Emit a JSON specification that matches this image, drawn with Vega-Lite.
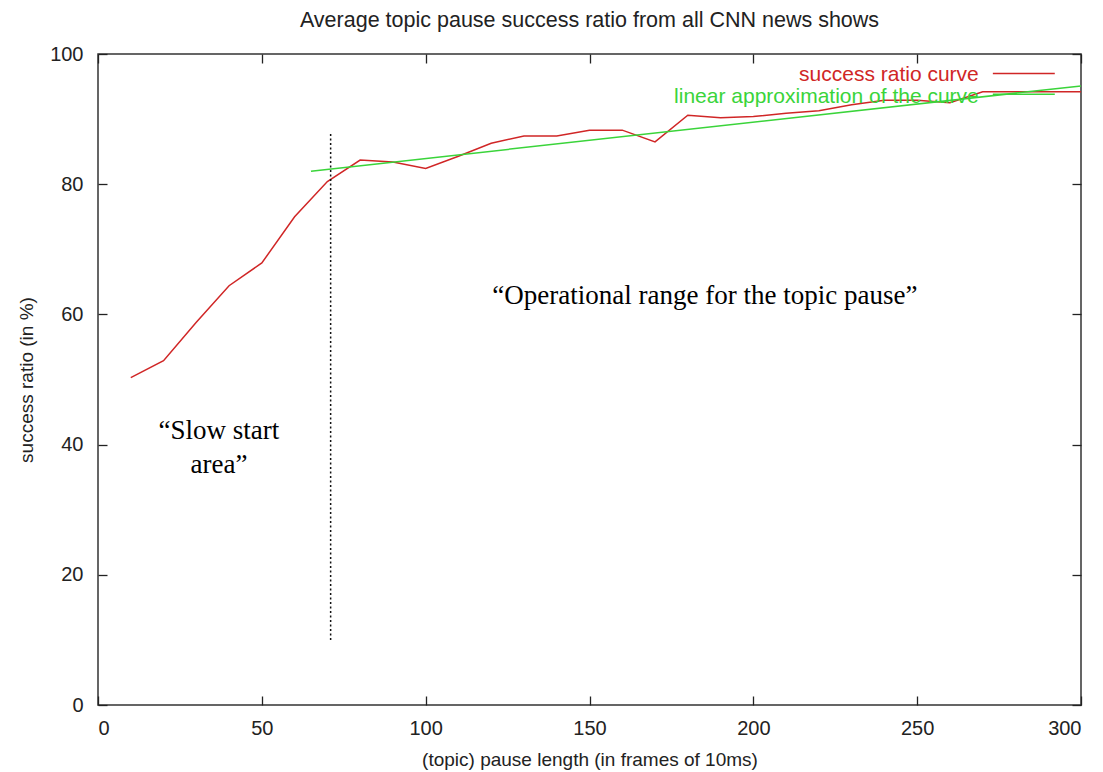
{
  "$schema": "https://vega.github.io/schema/vega-lite/v6.json",
  "width": 983,
  "height": 651,
  "autosize": {"type": "none"},
  "padding": {"left": 98, "top": 54, "right": 22, "bottom": 67},
  "background": "white",
  "title": {
    "text": "Average topic pause success ratio from all CNN news shows",
    "font": "Liberation Sans",
    "fontSize": 21.5,
    "fontWeight": "normal",
    "color": "#222222",
    "offset": 13
  },
  "config": {
    "view": {"stroke": "#333333", "strokeWidth": 1.5},
    "axis": {
      "grid": false,
      "domain": false,
      "tickColor": "#222222",
      "tickSize": -9,
      "tickWidth": 1.3,
      "labelFont": "Liberation Sans",
      "labelFontSize": 20,
      "labelColor": "#222222",
      "titleFont": "Liberation Sans",
      "titleFontSize": 19,
      "titleFontWeight": "normal",
      "titleColor": "#222222"
    }
  },
  "datasets": {
    "curves": [
      {"series": "success ratio curve", "length": 10, "ratio": 50.3},
      {"series": "success ratio curve", "length": 20, "ratio": 52.9},
      {"series": "success ratio curve", "length": 30, "ratio": 58.8},
      {"series": "success ratio curve", "length": 40, "ratio": 64.4},
      {"series": "success ratio curve", "length": 50, "ratio": 67.9},
      {"series": "success ratio curve", "length": 60, "ratio": 75.0},
      {"series": "success ratio curve", "length": 70, "ratio": 80.4},
      {"series": "success ratio curve", "length": 80, "ratio": 83.7},
      {"series": "success ratio curve", "length": 90, "ratio": 83.4},
      {"series": "success ratio curve", "length": 100, "ratio": 82.4},
      {"series": "success ratio curve", "length": 110, "ratio": 84.3},
      {"series": "success ratio curve", "length": 120, "ratio": 86.3},
      {"series": "success ratio curve", "length": 130, "ratio": 87.4},
      {"series": "success ratio curve", "length": 140, "ratio": 87.4},
      {"series": "success ratio curve", "length": 150, "ratio": 88.3},
      {"series": "success ratio curve", "length": 160, "ratio": 88.3},
      {"series": "success ratio curve", "length": 170, "ratio": 86.5},
      {"series": "success ratio curve", "length": 180, "ratio": 90.6},
      {"series": "success ratio curve", "length": 190, "ratio": 90.2},
      {"series": "success ratio curve", "length": 200, "ratio": 90.4},
      {"series": "success ratio curve", "length": 210, "ratio": 90.9},
      {"series": "success ratio curve", "length": 220, "ratio": 91.3},
      {"series": "success ratio curve", "length": 230, "ratio": 92.2},
      {"series": "success ratio curve", "length": 240, "ratio": 92.9},
      {"series": "success ratio curve", "length": 250, "ratio": 92.9},
      {"series": "success ratio curve", "length": 260, "ratio": 92.5},
      {"series": "success ratio curve", "length": 270, "ratio": 94.2},
      {"series": "success ratio curve", "length": 280, "ratio": 94.2},
      {"series": "success ratio curve", "length": 290, "ratio": 94.2},
      {"series": "success ratio curve", "length": 300, "ratio": 94.2},
      {"series": "linear approximation of the curve", "length": 65, "ratio": 82.0},
      {"series": "linear approximation of the curve", "length": 300, "ratio": 95.1}
    ],
    "boundary": [
      {"length": 71, "from": 10, "to": 88}
    ],
    "notes": [
      {"note": ["“Operational range for the topic pause”"], "length": 185.2, "ratio": 61.6},
      {"note": ["“Slow start", "area”"], "length": 36.9, "ratio": 40.8}
    ],
    "keyCurve": [{"series": "success ratio curve"}],
    "keyFit": [{"series": "linear approximation of the curve"}]
  },
  "layer": [
    {
      "data": {"name": "curves"},
      "mark": {"type": "line", "strokeWidth": 1.5},
      "encoding": {
        "x": {
          "field": "length", "type": "quantitative",
          "scale": {"domain": [0, 300]},
          "axis": {"orient": "bottom", "values": [0, 50, 100, 150, 200, 250, 300], "labelPadding": 22, "title": "(topic) pause length (in frames of 10ms)", "titlePadding": 12}
        },
        "y": {
          "field": "ratio", "type": "quantitative",
          "scale": {"domain": [0, 100]},
          "axis": {"orient": "left", "values": [0, 20, 40, 60, 80, 100], "labelPadding": 24, "title": "success ratio (in %)", "titlePadding": 13}
        },
        "color": {
          "field": "series", "type": "nominal",
          "scale": {
            "domain": ["success ratio curve", "linear approximation of the curve"],
            "range": ["#d02626", "#3ad43a"]
          },
          "legend": null
        }
      }
    },
    {
      "data": {"name": "curves"},
      "mark": {"type": "point", "opacity": 0},
      "encoding": {
        "x": {"field": "length", "type": "quantitative", "axis": {"orient": "top", "values": [0, 50, 100, 150, 200, 250, 300], "labels": false, "title": null}},
        "y": {"field": "ratio", "type": "quantitative", "axis": {"orient": "right", "values": [0, 20, 40, 60, 80, 100], "labels": false, "title": null}}
      }
    },
    {
      "data": {"name": "boundary"},
      "mark": {"type": "rule", "color": "#111111", "strokeWidth": 1.5, "strokeDash": [2, 2.5]},
      "encoding": {
        "x": {"field": "length", "type": "quantitative", "axis": null},
        "y": {"field": "from", "type": "quantitative", "axis": null},
        "y2": {"field": "to"}
      }
    },
    {
      "data": {"name": "notes"},
      "mark": {"type": "text", "font": "Liberation Serif", "fontSize": 27, "lineHeight": 34, "align": "center", "baseline": "alphabetic", "color": "#000000"},
      "encoding": {
        "x": {"field": "length", "type": "quantitative", "axis": null},
        "y": {"field": "ratio", "type": "quantitative", "axis": null},
        "text": {"field": "note"}
      }
    },
    {
      "data": {"name": "keyCurve"},
      "mark": {"type": "rule", "strokeWidth": 1.5},
      "encoding": {
        "x": {"datum": 273.1, "type": "quantitative", "axis": null},
        "x2": {"datum": 292.0},
        "y": {"datum": 97.0, "type": "quantitative", "axis": null},
        "color": {"field": "series", "type": "nominal", "legend": null}
      }
    },
    {
      "data": {"name": "keyCurve"},
      "mark": {"type": "text", "font": "Liberation Sans", "fontSize": 21, "align": "right", "baseline": "alphabetic"},
      "encoding": {
        "x": {"datum": 268.8, "type": "quantitative", "axis": null},
        "y": {"datum": 95.8, "type": "quantitative", "axis": null},
        "text": {"field": "series"},
        "color": {"field": "series", "type": "nominal", "legend": null}
      }
    },
    {
      "data": {"name": "keyFit"},
      "mark": {"type": "rule", "strokeWidth": 1.5},
      "encoding": {
        "x": {"datum": 273.1, "type": "quantitative", "axis": null},
        "x2": {"datum": 292.0},
        "y": {"datum": 93.8, "type": "quantitative", "axis": null},
        "color": {"field": "series", "type": "nominal", "legend": null}
      }
    },
    {
      "data": {"name": "keyFit"},
      "mark": {"type": "text", "font": "Liberation Sans", "fontSize": 21, "align": "right", "baseline": "alphabetic"},
      "encoding": {
        "x": {"datum": 268.8, "type": "quantitative", "axis": null},
        "y": {"datum": 92.4, "type": "quantitative", "axis": null},
        "text": {"field": "series"},
        "color": {"field": "series", "type": "nominal", "legend": null}
      }
    }
  ],
  "resolve": {"axis": {"x": "independent", "y": "independent"}}
}
